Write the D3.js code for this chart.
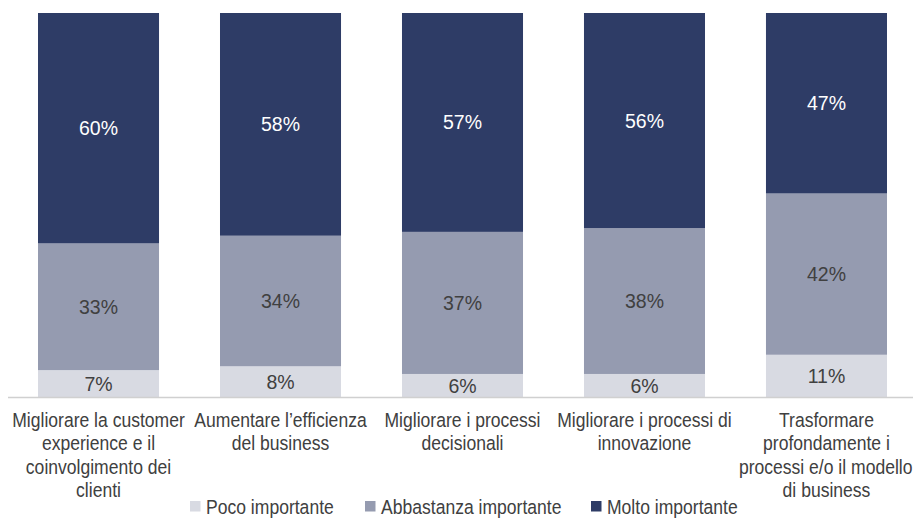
<!DOCTYPE html>
<html>
<head>
<meta charset="utf-8">
<script src="https://cdn.jsdelivr.net/npm/d3@7"></script>
<style>
  html, body { margin: 0; padding: 0; background: #fff; }
  svg { display: block; font-family: "Liberation Sans", Arial, sans-serif; }
</style>
</head>
<body>
<svg id="chart" width="913" height="518"></svg>
<script>
// Categories, each split into the lines shown under its bar
const categories = [
  "Migliorare la customer experience e il coinvolgimento dei clienti",
  "Aumentare l’efficienza del business",
  "Migliorare i processi decisionali",
  "Migliorare i processi di innovazione",
  "Trasformare profondamente i processi e/o il modello di business"
];
const categoryLines = [
  ["Migliorare la customer", "experience e il", "coinvolgimento dei", "clienti"],
  ["Aumentare l’efficienza", "del business"],
  ["Migliorare i processi", "decisionali"],
  ["Migliorare i processi di", "innovazione"],
  ["Trasformare", "profondamente i", "processi e/o il modello", "di business"]
];

// Series (percent of respondents)
const seriesNames = ["Poco importante", "Abbastanza importante", "Molto importante"];
const poco       = [7, 8, 6, 6, 11];
const abbastanza = [33, 34, 37, 38, 42];
const molto      = [60, 58, 57, 56, 47];

const colors = ["#d8dae2", "#959bb0", "#2e3c66"];
const labelColors = ["#404040", "#404040", "#ffffff"];

const rows = categories.map((c, i) => ({
  category: c,
  "Poco importante": poco[i],
  "Abbastanza importante": abbastanza[i],
  "Molto importante": molto[i]
}));

const W = 913;
const svg = d3.select("#chart");

const x = d3.scaleBand()
  .domain(categories)
  .range([7.5, 917.5])
  .paddingInner(0.335)
  .paddingOuter(0.1676);

const y = d3.scaleLinear()
  .domain([0, 100])
  .range([397, 13]);

const stack = d3.stack().keys(seriesNames);
const layers = stack(rows);

const layerG = svg.selectAll("g.layer")
  .data(layers)
  .join("g")
  .attr("class", "layer")
  .attr("fill", (d, i) => colors[i]);

layerG.selectAll("rect")
  .data(d => d)
  .join("rect")
  .attr("x", d => x(d.data.category))
  .attr("width", x.bandwidth())
  .attr("y", d => y(d[1]))
  .attr("height", d => y(d[0]) - y(d[1]));

// Value labels centred in each segment
layers.forEach((layer, li) => {
  svg.append("g")
    .selectAll("text")
    .data(layer)
    .join("text")
    .attr("x", d => x(d.data.category) + x.bandwidth() / 2)
    .attr("y", d => (y(d[0]) + y(d[1])) / 2)
    .attr("dy", "0.36em")
    .attr("text-anchor", "middle")
    .attr("font-size", 19.5)
    .attr("fill", labelColors[li])
    .text(d => (d[1] - d[0]) + "%");
});

// Baseline
const xAxis = d3.axisBottom(x).tickSize(0).tickFormat("");
const axisG = svg.append("g")
  .attr("transform", `translate(0,${y(0)})`)
  .call(xAxis);
axisG.select(".domain").attr("stroke", "#d0d0d0").attr("stroke-width", 1.5);

// Slightly condensed text helper
const squeeze = 0.9;

// Category labels, multi-line, kept inside the right edge
const catG = svg.append("g");
categories.forEach((c, i) => {
  const cx = x(c) + x.bandwidth() / 2;
  categoryLines[i].forEach((line, k) => {
    const g = catG.append("g");
    const t = g.append("text")
      .attr("x", 0)
      .attr("y", 427 + k * 23.5)
      .attr("text-anchor", "middle")
      .attr("font-size", 19.5)
      .attr("fill", "#404040")
      .text(line);
    const half = t.node().getComputedTextLength() * squeeze / 2;
    const px = Math.min(cx, W - 0.5 - half);
    g.attr("transform", `translate(${px},0) scale(${squeeze},1)`);
  });
});

// Legend
const legendX = [190, 365, 591];
const legend = svg.append("g");
seriesNames.forEach((name, i) => {
  legend.append("rect")
    .attr("x", legendX[i])
    .attr("y", 501)
    .attr("width", 10.5)
    .attr("height", 10.5)
    .attr("fill", colors[i]);
  legend.append("g")
    .attr("transform", `translate(${legendX[i] + 16},0) scale(${squeeze},1)`)
    .append("text")
    .attr("x", 0)
    .attr("y", 514.5)
    .attr("font-size", 19.5)
    .attr("fill", "#404040")
    .text(name);
});
</script>
</body>
</html>
